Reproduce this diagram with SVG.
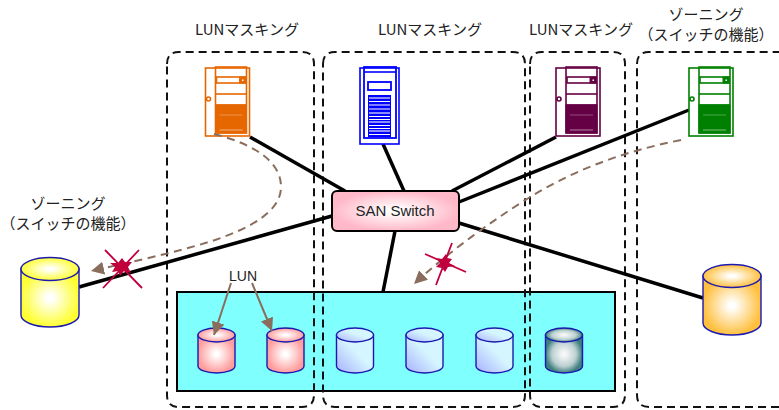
<svg xmlns="http://www.w3.org/2000/svg" xmlns:xlink="http://www.w3.org/1999/xlink" width="779" height="410" viewBox="0 0 779 410">
<style>
text{font-family:"Noto Sans CJK JP","Liberation Sans",sans-serif;font-size:15px;fill:#222;text-anchor:middle}
.zone{fill:none;stroke:#111;stroke-width:2;stroke-dasharray:8 5}
.link{stroke:#000;stroke-width:3.5;fill:none}
.flow{stroke:#8a6d5c;stroke-width:2;fill:none;stroke-dasharray:8 5.5}
.ptr{stroke:#8a6d5c;stroke-width:2;fill:none}
.cyl{stroke:#1a1ab0;stroke-width:1.4}
.x{stroke:#c0003c;stroke-width:1.8;fill:none}
.blob{fill:#c0003c}
.sv{fill:#fff;stroke-width:1.6}
.sv2{fill:none;stroke-width:1.6}
</style>
<defs>
<radialGradient id="gy"><stop offset="0.1" stop-color="#fff"/><stop offset="1" stop-color="#ffff33"/></radialGradient>
<radialGradient id="go"><stop offset="0.1" stop-color="#fff"/><stop offset="1" stop-color="#ffc040"/></radialGradient>
<radialGradient id="gp"><stop offset="0.1" stop-color="#fff"/><stop offset="1" stop-color="#ff9c9c"/></radialGradient>
<radialGradient id="gs"><stop offset="0.1" stop-color="#fff"/><stop offset="1" stop-color="#ffb8c8"/></radialGradient>
<radialGradient id="gd"><stop offset="0.1" stop-color="#f6f6f6"/><stop offset="0.65" stop-color="#bcd0d0"/><stop offset="1" stop-color="#3f7f7f"/></radialGradient>
<linearGradient id="gb" x1="0" y1="1" x2="1" y2="0"><stop offset="0" stop-color="#a8b0ff"/><stop offset="0.55" stop-color="#d6f6ff"/><stop offset="1" stop-color="#d6f6ff"/></linearGradient>
<marker id="ah" markerUnits="userSpaceOnUse" markerWidth="16" markerHeight="14" refX="13" refY="6.500" orient="auto"><path d="M0,0L13,6.500L0,13z" fill="#8a6d5c"/></marker>
<symbol id="tower" viewBox="0 0 46 70" width="46" height="70" overflow="visible">
<rect class="sv" x="1" y="1" width="44" height="68"/>
<rect class="sv2" x="11" y="0" width="31" height="66"/>
<rect class="sv" x="12" y="10" width="29" height="6"/>
<rect x="35" y="10" width="6" height="6" fill="currentColor"/>
<rect x="37.500" y="12.500" width="1.500" height="1.500" fill="#fff" stroke="none"/>
<line class="sv2" x1="11" y1="27" x2="42" y2="27"/>
<line class="sv2" x1="11" y1="38" x2="42" y2="38"/>
<rect x="11" y="38" width="31" height="28" fill="currentColor"/>
<line x1="15" y1="48" x2="38" y2="48" stroke="#fff" stroke-opacity=".3"/>
<line x1="15" y1="63" x2="38" y2="63" stroke="#fff" stroke-opacity=".5"/>
<circle class="sv" cx="4" cy="32" r="2"/>
</symbol>
</defs>
<g id="lun-array"><rect x="177" y="292" width="438" height="99" fill="#80ffff" stroke="#000" stroke-width="2"/></g>
<g id="zones">
<path class="zone" d="M167,64Q167,52 179,52H302Q314,52 314,64V395Q314,407 302,407H179Q167,407 167,395Z"/>
<path class="zone" d="M323,64Q323,52 335,52H513Q525,52 525,64V395Q525,407 513,407H335Q323,407 323,395Z"/>
<path class="zone" d="M530,64Q530,52 542,52H613Q625,52 625,64V395Q625,407 613,407H542Q530,407 530,395Z"/>
<path class="zone" d="M637,64Q637,52 649,52H779M779,407H649Q637,407 637,395V64"/>
</g>
<g id="labels">
<text x="247" y="35">LUNマスキング</text>
<text x="430" y="35">LUNマスキング</text>
<text x="581" y="35">LUNマスキング</text>
<text x="706" y="20">ゾーニング</text>
<text x="706" y="40">（スイッチの機能）</text>
<text x="68" y="209">ゾーニング</text>
<text x="68" y="229">（スイッチの機能）</text>
</g>
<g id="connectors">
<path class="link" d="M250,137L345,191"/>
<path class="link" d="M383,144L404,191"/>
<path class="link" d="M556,137L452,191"/>
<path class="link" d="M689,110L459,202"/>
<path class="link" d="M459,223L703,298"/>
<path class="link" d="M395,231L383,292"/>
<path class="link" d="M79,287L332,216"/>
</g>
<g id="server-orange" color="#e66600" stroke="#e66600"><use xlink:href="#tower" x="204.500" y="67"/></g>
<g id="server-purple" color="#660044" stroke="#660044"><use xlink:href="#tower" x="555" y="67"/></g>
<g id="server-green" color="#008000" stroke="#008000"><use xlink:href="#tower" x="688" y="67"/></g>
<g id="server-blue">
<rect x="360" y="68" width="39" height="76" fill="#fff" stroke="#0000ff" stroke-width="1.600"/>
<rect x="364" y="67" width="32" height="71" fill="none" stroke="#0000ff" stroke-width="1.800"/>
<line x1="364" y1="72" x2="396" y2="72" stroke="#0000ff" stroke-width="1.600"/>
<rect x="368" y="82" width="23" height="8" fill="#fff" stroke="#0000ff" stroke-width="1.800"/>
<rect x="368" y="95" width="23" height="42" fill="#0000ff"/>
<path d="M369,98H390M369,113H390M369,122H390M369,131H390" stroke="#8c8cff" stroke-width="2"/>
<path d="M369,101.500H390M369,105H390M369,109H390M369,116.500H390M369,119.500H390M369,125.500H390M369,128.500H390M369,134.500H390" stroke="#fff" stroke-width="1"/>
</g>
<g id="switch">
<rect x="332" y="191" width="127" height="40" rx="5" fill="url(#gs)" stroke="#000" stroke-width="2"/>
<text x="395" y="216" style="font-family:'Liberation Sans',sans-serif;font-size:15px">SAN Switch</text>
</g>
<g id="disk-yellow" class="cyl">
<path d="M21,269V315A29,12 0 0 0 79,315V269Z" fill="url(#gy)"/><ellipse cx="50" cy="269" rx="29" ry="11.500" fill="url(#gy)"/>
</g>
<g id="disk-orange" class="cyl">
<path d="M703,276V323A29,12 0 0 0 761,323V276Z" fill="url(#go)"/><ellipse cx="732" cy="276" rx="29" ry="11.500" fill="url(#go)"/>
</g>
<g id="lun1" class="cyl"><path d="M198,335V366A18.500,7 0 0 0 235,366V335Z" fill="url(#gp)"/><ellipse cx="216.500" cy="335" rx="18.500" ry="7" fill="url(#gp)"/></g>
<g id="lun2" class="cyl"><path d="M267,335V366A18.500,7 0 0 0 304,366V335Z" fill="url(#gp)"/><ellipse cx="285.500" cy="335" rx="18.500" ry="7" fill="url(#gp)"/></g>
<g id="lun3" class="cyl"><path d="M336.500,335V366A18.500,7 0 0 0 373.500,366V335Z" fill="url(#gb)"/><ellipse cx="355" cy="335" rx="18.500" ry="7" fill="url(#gb)"/></g>
<g id="lun4" class="cyl"><path d="M406,335V366A18.500,7 0 0 0 443,366V335Z" fill="url(#gb)"/><ellipse cx="424.500" cy="335" rx="18.500" ry="7" fill="url(#gb)"/></g>
<g id="lun5" class="cyl"><path d="M476,335V366A18.500,7 0 0 0 513,366V335Z" fill="url(#gb)"/><ellipse cx="494.500" cy="335" rx="18.500" ry="7" fill="url(#gb)"/></g>
<g id="lun6" class="cyl"><path d="M545.500,335V366A18.500,7 0 0 0 582.500,366V335Z" fill="url(#gd)"/><ellipse cx="564" cy="335" rx="18.500" ry="7" fill="url(#gd)"/></g>
<g id="flows">
<path class="flow" d="M214,134C250,143 282,160 281,188C280,212 250,228 215,240C175,253 130,262 91,271" marker-end="url(#ah)"/>
<path class="flow" d="M681,140C620,152 570,172 527,199C490,222 445,255 414,284" marker-end="url(#ah)"/>
<path class="ptr" d="M231,283L214,335" marker-end="url(#ah)"/>
<path class="ptr" d="M252,283L272,331" marker-end="url(#ah)"/>
</g>
<g id="lun-label"><text x="243" y="281" style="font-family:'Liberation Sans',sans-serif;font-size:14px">LUN</text></g>
<g id="block-left">
<path class="x" d="M105,250L142,288M139,250L103,288"/>
<path class="blob" d="M122,258L125,262L132,262L128,267L131,273L124,271L120,276L118,271L112,272L115,267L110,263L118,263Z"/>
</g>
<g id="block-right">
<path class="x" d="M425,254L466,272M452,243L436,285"/>
<path class="blob" d="M446,254L447,258L452,259L449,263L455,266L448,267L445,272L442,268L436,267L440,263L437,258L442,259Z"/>
</g>
</svg>
